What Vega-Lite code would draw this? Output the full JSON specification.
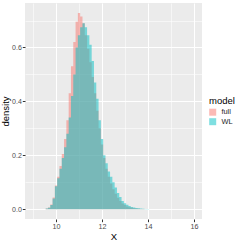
{
  "$schema": "https://vega.github.io/schema/vega-lite/v6.json",
  "width": 177,
  "height": 216,
  "autosize": {"type": "none"},
  "padding": {"left": 25, "top": 3, "right": 39, "bottom": 22},
  "background": "white",
  "config": {"view": {"fill": "#EBEBEB", "stroke": null}, "font": "Liberation Sans"},
  "data": {"values": [
    {"model": "full", "bin_start": 9.45, "density": 0},
    {"model": "full", "bin_start": 9.55, "density": 0.002},
    {"model": "full", "bin_start": 9.65, "density": 0.006},
    {"model": "full", "bin_start": 9.75, "density": 0.017},
    {"model": "full", "bin_start": 9.85, "density": 0.043},
    {"model": "full", "bin_start": 9.95, "density": 0.088},
    {"model": "full", "bin_start": 10.05, "density": 0.12},
    {"model": "full", "bin_start": 10.15, "density": 0.16},
    {"model": "full", "bin_start": 10.25, "density": 0.205},
    {"model": "full", "bin_start": 10.35, "density": 0.26},
    {"model": "full", "bin_start": 10.45, "density": 0.33},
    {"model": "full", "bin_start": 10.55, "density": 0.43},
    {"model": "full", "bin_start": 10.65, "density": 0.53},
    {"model": "full", "bin_start": 10.75, "density": 0.62},
    {"model": "full", "bin_start": 10.85, "density": 0.695},
    {"model": "full", "bin_start": 10.95, "density": 0.728},
    {"model": "full", "bin_start": 11.05, "density": 0.715},
    {"model": "full", "bin_start": 11.15, "density": 0.69},
    {"model": "full", "bin_start": 11.25, "density": 0.645},
    {"model": "full", "bin_start": 11.35, "density": 0.595},
    {"model": "full", "bin_start": 11.45, "density": 0.545},
    {"model": "full", "bin_start": 11.55, "density": 0.49},
    {"model": "full", "bin_start": 11.65, "density": 0.43},
    {"model": "full", "bin_start": 11.75, "density": 0.365},
    {"model": "full", "bin_start": 11.85, "density": 0.3},
    {"model": "full", "bin_start": 11.95, "density": 0.24},
    {"model": "full", "bin_start": 12.05, "density": 0.19},
    {"model": "full", "bin_start": 12.15, "density": 0.15},
    {"model": "full", "bin_start": 12.25, "density": 0.12},
    {"model": "full", "bin_start": 12.35, "density": 0.095},
    {"model": "full", "bin_start": 12.45, "density": 0.074},
    {"model": "full", "bin_start": 12.55, "density": 0.057},
    {"model": "full", "bin_start": 12.65, "density": 0.042},
    {"model": "full", "bin_start": 12.75, "density": 0.03},
    {"model": "full", "bin_start": 12.85, "density": 0.021},
    {"model": "full", "bin_start": 12.95, "density": 0.015},
    {"model": "full", "bin_start": 13.05, "density": 0.01},
    {"model": "full", "bin_start": 13.15, "density": 0.007},
    {"model": "full", "bin_start": 13.25, "density": 0.005},
    {"model": "full", "bin_start": 13.35, "density": 0.003},
    {"model": "full", "bin_start": 13.45, "density": 0.002},
    {"model": "full", "bin_start": 13.55, "density": 0.0015},
    {"model": "full", "bin_start": 13.65, "density": 0.001},
    {"model": "full", "bin_start": 13.75, "density": 0.0007},
    {"model": "full", "bin_start": 13.85, "density": 0},
    {"model": "WL", "bin_start": 9.45, "density": 0},
    {"model": "WL", "bin_start": 9.55, "density": 0.002},
    {"model": "WL", "bin_start": 9.65, "density": 0.005},
    {"model": "WL", "bin_start": 9.75, "density": 0.015},
    {"model": "WL", "bin_start": 9.85, "density": 0.04},
    {"model": "WL", "bin_start": 9.95, "density": 0.085},
    {"model": "WL", "bin_start": 10.05, "density": 0.115},
    {"model": "WL", "bin_start": 10.15, "density": 0.15},
    {"model": "WL", "bin_start": 10.25, "density": 0.19},
    {"model": "WL", "bin_start": 10.35, "density": 0.23},
    {"model": "WL", "bin_start": 10.45, "density": 0.28},
    {"model": "WL", "bin_start": 10.55, "density": 0.34},
    {"model": "WL", "bin_start": 10.65, "density": 0.42},
    {"model": "WL", "bin_start": 10.75, "density": 0.5},
    {"model": "WL", "bin_start": 10.85, "density": 0.6},
    {"model": "WL", "bin_start": 10.95, "density": 0.645},
    {"model": "WL", "bin_start": 11.05, "density": 0.675},
    {"model": "WL", "bin_start": 11.15, "density": 0.69},
    {"model": "WL", "bin_start": 11.25, "density": 0.675},
    {"model": "WL", "bin_start": 11.35, "density": 0.645},
    {"model": "WL", "bin_start": 11.45, "density": 0.61},
    {"model": "WL", "bin_start": 11.55, "density": 0.55},
    {"model": "WL", "bin_start": 11.65, "density": 0.47},
    {"model": "WL", "bin_start": 11.75, "density": 0.41},
    {"model": "WL", "bin_start": 11.85, "density": 0.33},
    {"model": "WL", "bin_start": 11.95, "density": 0.26},
    {"model": "WL", "bin_start": 12.05, "density": 0.2},
    {"model": "WL", "bin_start": 12.15, "density": 0.17},
    {"model": "WL", "bin_start": 12.25, "density": 0.14},
    {"model": "WL", "bin_start": 12.35, "density": 0.12},
    {"model": "WL", "bin_start": 12.45, "density": 0.1},
    {"model": "WL", "bin_start": 12.55, "density": 0.08},
    {"model": "WL", "bin_start": 12.65, "density": 0.06},
    {"model": "WL", "bin_start": 12.75, "density": 0.045},
    {"model": "WL", "bin_start": 12.85, "density": 0.03},
    {"model": "WL", "bin_start": 12.95, "density": 0.022},
    {"model": "WL", "bin_start": 13.05, "density": 0.016},
    {"model": "WL", "bin_start": 13.15, "density": 0.012},
    {"model": "WL", "bin_start": 13.25, "density": 0.008},
    {"model": "WL", "bin_start": 13.35, "density": 0.006},
    {"model": "WL", "bin_start": 13.45, "density": 0.004},
    {"model": "WL", "bin_start": 13.55, "density": 0.003},
    {"model": "WL", "bin_start": 13.65, "density": 0.002},
    {"model": "WL", "bin_start": 13.75, "density": 0.0015},
    {"model": "WL", "bin_start": 13.85, "density": 0.001},
    {"model": "WL", "bin_start": 13.95, "density": 0.0007},
    {"model": "WL", "bin_start": 14.05, "density": 0}
  ]},
  "encoding": {
    "x": {
      "field": "bin_start", "type": "quantitative",
      "scale": {"domain": [8.65, 16.35], "nice": false, "zero": false},
      "axis": {
        "title": "X",
        "values": [9, 10, 11, 12, 13, 14, 15, 16],
        "labelExpr": "datum.value % 2 == 0 ? datum.label : ''",
        "grid": true,
        "gridColor": "white",
        "gridOpacity": 1,
        "gridWidth": {"condition": {"test": "datum.value % 2 == 0", "value": 1.1}, "value": 0.55},
        "tickColor": "#333333",
        "tickSize": 2.7,
        "tickWidth": 1,
        "tickOpacity": {"condition": {"test": "datum.value % 2 == 0", "value": 1}, "value": 0},
        "domain": false,
        "labelColor": "#4D4D4D",
        "labelFontSize": 7.2,
        "labelPadding": 1,
        "titleFontSize": 9.5,
        "titleColor": "black",
        "titleFontWeight": "normal",
        "titlePadding": 2
      }
    },
    "y": {
      "field": "density", "type": "quantitative", "stack": null,
      "scale": {"domain": [-0.0365, 0.765], "nice": false, "zero": false},
      "axis": {
        "title": "density",
        "values": [0, 0.1, 0.2, 0.3, 0.4, 0.5, 0.6, 0.7],
        "labelExpr": "round(datum.value * 10) % 2 == 0 ? format(datum.value, '.1f') : ''",
        "grid": true,
        "gridColor": "white",
        "gridOpacity": 1,
        "gridWidth": {"condition": {"test": "round(datum.value * 10) % 2 == 0", "value": 1.1}, "value": 0.55},
        "tickColor": "#333333",
        "tickSize": 2.7,
        "tickWidth": 1,
        "tickOpacity": {"condition": {"test": "round(datum.value * 10) % 2 == 0", "value": 1}, "value": 0},
        "domain": false,
        "labelColor": "#4D4D4D",
        "labelFontSize": 7,
        "labelPadding": 1,
        "titleFontSize": 9.5,
        "titleColor": "black",
        "titleFontWeight": "normal",
        "titlePadding": 1
      }
    },
    "y2": {"datum": 0},
    "color": {
      "field": "model", "type": "nominal",
      "scale": {"domain": ["full", "WL"], "range": ["#F8766D", "#00BFC4"]},
      "legend": {
        "orient": "none",
        "legendX": 184,
        "legendY": 93,
        "padding": 0,
        "title": "model",
        "titleFontSize": 9.5,
        "titleFontWeight": "normal",
        "titleColor": "black",
        "titlePadding": 3,
        "labelFontSize": 7.4,
        "labelColor": "#1A1A1A",
        "labelOffset": 5,
        "symbolType": "square",
        "symbolSize": 49,
        "symbolOpacity": 0.5,
        "symbolStrokeWidth": 0,
        "rowPadding": 0.5
      }
    }
  },
  "layer": [
    {
      "transform": [{"filter": "datum.model == 'full'"}],
      "mark": {"type": "area", "interpolate": "step-after", "fillOpacity": 0.5, "strokeWidth": 0}
    },
    {
      "transform": [{"filter": "datum.model == 'WL'"}],
      "mark": {"type": "area", "interpolate": "step-after", "fillOpacity": 0.5, "strokeWidth": 0}
    }
  ]
}
